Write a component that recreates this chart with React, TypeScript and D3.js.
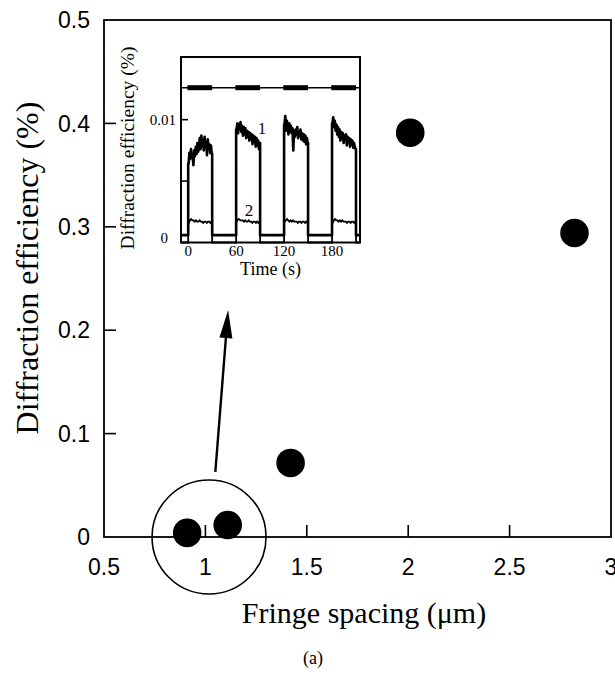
import React from "react";
import * as d3 from "d3";

// Main scatter: diffraction efficiency versus fringe spacing
const fringeSpacing = [0.91, 1.11, 1.42, 2.01, 2.82];
const efficiency = [0.004, 0.0116, 0.0716, 0.391, 0.294];
const xTicks = [0.5, 1, 1.5, 2, 2.5, 3];
const yTicks = [0, 0.1, 0.2, 0.3, 0.4, 0.5];

// Annotation: circled low-spacing points and arrow towards the inset
const circleCenter = [1.018, 0];
const arrowFrom = [1.049, 0.063];
const arrowTo = [1.112, 0.2195];

// Inset: time traces of diffraction efficiency under pulsed illumination
const pulseStarts = [0, 60, 120, 180];
const pulseLength = 30;
const insetXTicks = [0, 60, 120, 180];
const insetYTicks = [0, 0.005, 0.01];
const insetYLabels = ["0", "", "0.01"];
const trace1Off = 0.0006;
const trace2Off = 0;
const indicatorLevel = 0.0126;
// trace 1 samples (in units of 0.001 %), 1 s apart inside each pulse
const trace1Pulses = [
  [6.4, 7.3, 6.8, 7.6, 6.9, 7.1, 6.3, 7.5, 7.0, 7.8, 7.2, 8.1, 7.4, 7.9, 8.5, 7.6, 8.7, 7.9, 8.3, 7.5, 8.6, 7.8, 8.2, 7.1, 8.4, 7.7, 8.0, 7.3, 7.9, 7.2],
  [9.2, 9.7, 8.9, 9.6, 9.3, 9.8, 9.0, 9.5, 8.7, 9.4, 8.8, 9.3, 8.5, 9.1, 8.6, 9.0, 8.3, 8.9, 8.4, 8.8, 8.0, 8.7, 8.2, 8.6, 7.8, 8.5, 7.9, 8.3, 7.6, 8.1],
  [9.6, 10.3, 9.1, 9.9, 9.4, 8.8, 9.7, 9.0, 9.5, 8.9, 9.3, 7.5, 9.1, 8.6, 9.2, 8.8, 9.4, 8.5, 9.0, 8.7, 9.2, 8.4, 8.9, 8.3, 8.8, 8.2, 8.7, 8.0, 8.5, 8.1],
  [9.7, 10.2, 9.4, 9.9, 9.1, 9.6, 8.8, 9.4, 8.6, 9.2, 8.3, 9.0, 8.5, 8.9, 8.1, 8.7, 8.4, 8.8, 7.9, 8.6, 8.2, 8.5, 7.8, 8.4, 8.0, 8.3, 7.7, 8.1, 7.8, 7.6],
];
const trace2Pulses = [
  [1.6, 1.8, 1.9, 1.8, 1.8, 1.7, 1.8, 1.7, 1.7, 1.8, 1.7, 1.7, 1.6, 1.7, 1.7, 1.6, 1.7, 1.7, 1.6, 1.7],
  [1.7, 1.9, 1.9, 1.8, 1.8, 1.8, 1.7, 1.8, 1.7, 1.7, 1.8, 1.7, 1.7, 1.6, 1.7, 1.7, 1.6, 1.7, 1.6, 1.7],
  [1.7, 1.8, 1.9, 1.8, 1.7, 1.8, 1.7, 1.8, 1.7, 1.7, 1.7, 1.6, 1.7, 1.7, 1.6, 1.7, 1.7, 1.6, 1.7, 1.6],
  [1.6, 1.8, 1.9, 1.8, 1.8, 1.7, 1.8, 1.7, 1.8, 1.7, 1.7, 1.7, 1.6, 1.7, 1.7, 1.6, 1.7, 1.7, 1.6, 1.7],
];

const SANS = "'Liberation Sans', Arial, Helvetica, sans-serif";
const SERIF = "'Liberation Serif', 'Times New Roman', Times, serif";

function buildTrace(pulses: number[][], off: number, t0: number, t1: number): [number, number][] {
  const pts: [number, number][] = [[t0, off]];
  pulses.forEach((vals, k) => {
    const s = pulseStarts[k];
    const step = pulseLength / vals.length;
    pts.push([s, off]);
    pts.push([s, vals[0] / 1000]);
    vals.forEach((v, i) => pts.push([s + step * (i + 0.5), v / 1000]));
    pts.push([s + pulseLength, vals[vals.length - 1] / 1000]);
    pts.push([s + pulseLength, off]);
  });
  pts.push([t1, off]);
  return pts;
}

export default function App() {
  const W = 615;
  const H = 677;
  const x = d3.scaleLinear().domain([0.5, 3]).range([104, 611]);
  const y = d3.scaleLinear().domain([0, 0.5]).range([537, 20]);

  const ix = d3.scaleLinear().domain([-9, 215]).range([181, 360]);
  const iy = d3.scaleLinear().domain([0, 0.0151]).range([242.5, 57]);
  const line = d3
    .line<[number, number]>()
    .x((d) => ix(d[0]))
    .y((d) => iy(d[1]))
    .curve(d3.curveLinear);

  const [tMin, tMax] = ix.domain();
  const trace1 = buildTrace(trace1Pulses, trace1Off, tMin, tMax);
  const trace2 = buildTrace(trace2Pulses, trace2Off, tMin, tMax);

  const ax = x(arrowFrom[0]);
  const ay = y(arrowFrom[1]);
  const bx = x(arrowTo[0]);
  const by = y(arrowTo[1]);
  const ang = Math.atan2(by - ay, bx - ax);
  const headLen = 28;
  const headHalf = 6.5;
  const baseX = bx - headLen * Math.cos(ang);
  const baseY = by - headLen * Math.sin(ang);
  const px = -Math.sin(ang);
  const py = Math.cos(ang);
  const head = `M${bx},${by}L${baseX + headHalf * px},${baseY + headHalf * py}L${baseX - headHalf * px},${baseY - headHalf * py}Z`;

  return (
    <svg
      width={W}
      height={H}
      viewBox={`0 0 ${W} ${H}`}
      style={{ position: "absolute", left: 0, top: 0, background: "#fff" }}
    >
      <rect x={0} y={0} width={W} height={H} fill="#fff" />

      {/* plot frame */}
      <rect
        x={x(0.5)}
        y={y(0.5)}
        width={x(3) - x(0.5)}
        height={y(0) - y(0.5)}
        fill="none"
        stroke="#000"
        strokeWidth={1.8}
      />

      {/* inward ticks */}
      {xTicks.slice(1, -1).map((t) => (
        <line key={`xt${t}`} x1={x(t)} x2={x(t)} y1={y(0)} y2={y(0) - 12} stroke="#000" strokeWidth={1.6} />
      ))}
      {yTicks.slice(1, -1).map((t) => (
        <line key={`yt${t}`} x1={x(0.5)} x2={x(0.5) + 12} y1={y(t)} y2={y(t)} stroke="#000" strokeWidth={1.6} />
      ))}

      {/* tick labels */}
      {xTicks.map((t) => (
        <text key={`xl${t}`} x={x(t)} y={575} textAnchor="middle" fontFamily={SANS} fontSize={23} fill="#000">
          {String(t)}
        </text>
      ))}
      {yTicks.map((t) => (
        <text
          key={`yl${t}`}
          x={90}
          y={y(t)}
          dy="0.36em"
          textAnchor="end"
          fontFamily={SANS}
          fontSize={23}
          fill="#000"
        >
          {String(t)}
        </text>
      ))}

      {/* axis titles */}
      <text x={364} y={623} textAnchor="middle" fontFamily={SERIF} fontSize={30} fill="#000">
        Fringe spacing (μm)
      </text>
      <text
        transform={`translate(38,268) rotate(-90)`}
        textAnchor="middle"
        fontFamily={SERIF}
        fontSize={32}
        fill="#000"
      >
        Diffraction efficiency (%)
      </text>
      <text x={313} y={664} textAnchor="middle" fontFamily={SERIF} fontSize={18} fill="#000">
        (a)
      </text>

      {/* data points */}
      {fringeSpacing.map((fs, i) => (
        <circle key={`p${i}`} cx={x(fs)} cy={y(efficiency[i])} r={14.3} fill="#000" />
      ))}

      {/* annotation circle and arrow */}
      <circle cx={x(circleCenter[0])} cy={y(circleCenter[1])} r={57} fill="none" stroke="#000" strokeWidth={1.6} />
      <line x1={ax} y1={ay} x2={baseX} y2={baseY} stroke="#000" strokeWidth={2.4} />
      <path d={head} fill="#000" />

      {/* inset */}
      <g>
        <rect
          x={ix(tMin)}
          y={iy(0.0151)}
          width={ix(tMax) - ix(tMin)}
          height={iy(0) - iy(0.0151)}
          fill="#fff"
          stroke="#000"
          strokeWidth={2}
        />
        {insetYTicks.slice(1).map((t) => (
          <line key={`iyt${t}`} x1={ix(tMin)} x2={ix(tMin) + 7} y1={iy(t)} y2={iy(t)} stroke="#000" strokeWidth={1.6} />
        ))}
        {insetYTicks.map((t, i) =>
          insetYLabels[i] ? (
            <text
              key={`iyl${t}`}
              x={i === 0 ? 168 : 176}
              y={iy(t) - (i === 0 ? 5 : 0)}
              dy="0.35em"
              textAnchor="end"
              fontFamily={SERIF}
              fontSize={15}
              fill="#000"
            >
              {insetYLabels[i]}
            </text>
          ) : null
        )}
        {insetXTicks.map((t) => (
          <text key={`ixl${t}`} x={ix(t)} y={256} textAnchor="middle" fontFamily={SERIF} fontSize={15} fill="#000">
            {String(t)}
          </text>
        ))}
        <text x={(ix(tMin) + ix(tMax)) / 2} y={275} textAnchor="middle" fontFamily={SERIF} fontSize={18} fill="#000">
          Time (s)
        </text>
        <text
          transform={`translate(134,148) rotate(-90)`}
          textAnchor="middle"
          fontFamily={SERIF}
          fontSize={19.5}
          fill="#000"
        >
          Diffraction efficiency (%)
        </text>

        {/* illumination indicator */}
        <line x1={ix(tMin)} x2={ix(tMax)} y1={iy(indicatorLevel)} y2={iy(indicatorLevel)} stroke="#000" strokeWidth={1.6} />
        {pulseStarts.map((s) => (
          <rect
            key={`on${s}`}
            x={ix(s - 1)}
            y={iy(indicatorLevel) - 2.5}
            width={ix(s + pulseLength) - ix(s - 1)}
            height={5}
            fill="#000"
          />
        ))}

        {/* traces */}
        <path d={line(trace2) || ""} fill="none" stroke="#000" strokeWidth={1.8} strokeLinejoin="miter" />
        <path d={line(trace1) || ""} fill="none" stroke="#000" strokeWidth={2.6} strokeLinejoin="round" />
        <text x={262} y={134} textAnchor="middle" fontFamily={SERIF} fontSize={16} fill="#000">
          1
        </text>
        <text x={249} y={216} textAnchor="middle" fontFamily={SERIF} fontSize={17} fill="#000">
          2
        </text>
      </g>
    </svg>
  );
}
